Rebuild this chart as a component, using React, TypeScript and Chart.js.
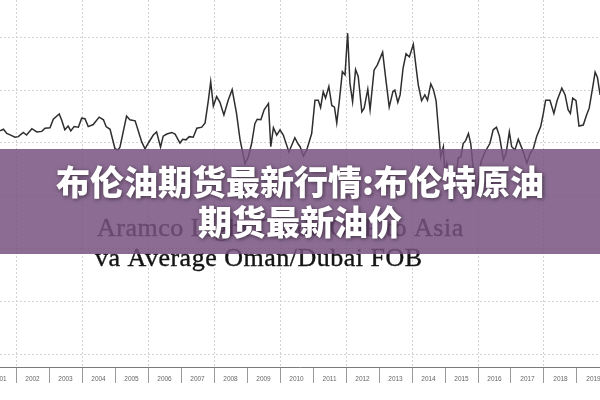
import { useEffect, useRef } from 'react';
import { Chart, registerables } from 'chart.js';

Chart.register(...registerables);

// Decimal year of each reading (x) and the spread value (y)
const dates = [
  2001.52, 2001.62, 2001.72, 2001.87, 2001.97, 2002.07, 2002.22, 2002.32, 2002.48, 2002.63,
  2002.78, 2002.88, 2003.03, 2003.13, 2003.31, 2003.38, 2003.48, 2003.58, 2003.66, 2003.76,
  2003.89, 2003.99, 2004.09, 2004.19, 2004.34, 2004.52, 2004.65, 2004.73, 2004.85, 2005.0,
  2005.09, 2005.15, 2005.35, 2005.45, 2005.61, 2005.81, 2005.91, 2006.01, 2006.16, 2006.26,
  2006.38, 2006.46, 2006.57, 2006.72, 2006.82, 2006.97, 2007.05, 2007.15, 2007.25, 2007.37,
  2007.48, 2007.63, 2007.73, 2007.83, 2007.9, 2007.98, 2008.08, 2008.18, 2008.3, 2008.43,
  2008.55, 2008.68, 2008.79, 2008.94, 2009.04, 2009.14, 2009.24, 2009.31, 2009.42, 2009.52,
  2009.65, 2009.72, 2009.8, 2009.9, 2010.0, 2010.1, 2010.27, 2010.45, 2010.55, 2010.61,
  2010.71, 2010.81, 2010.96, 2011.06, 2011.16, 2011.23, 2011.31, 2011.38, 2011.48, 2011.57,
  2011.65, 2011.72, 2011.8, 2011.89, 2011.97, 2012.05, 2012.12, 2012.2, 2012.29, 2012.37,
  2012.48, 2012.55, 2012.66, 2012.73, 2012.85, 2012.95, 2013.11, 2013.21, 2013.31, 2013.42,
  2013.48, 2013.57, 2013.64, 2013.73, 2013.82, 2013.92, 2014.04, 2014.12, 2014.19, 2014.29,
  2014.39, 2014.47, 2014.57, 2014.65, 2014.73, 2014.8, 2014.87, 2014.95, 2015.0, 2015.05,
  2015.13, 2015.2, 2015.25, 2015.3, 2015.4, 2015.48, 2015.55, 2015.63, 2015.71, 2015.78,
  2015.86, 2015.97, 2016.09, 2016.21, 2016.36, 2016.46, 2016.56, 2016.65, 2016.72, 2016.77,
  2016.85, 2016.95, 2017.02, 2017.12, 2017.22, 2017.35, 2017.48, 2017.58, 2017.68, 2017.78,
  2017.9, 2017.98, 2018.05, 2018.18, 2018.3, 2018.4, 2018.54, 2018.64, 2018.73, 2018.8,
  2018.87, 2018.97, 2019.06, 2019.19, 2019.29, 2019.37, 2019.48, 2019.55, 2019.62, 2019.7,
];

const spread = [
  0.23, 0.26, 0.18, 0.14, 0.11, 0.12, 0.2, 0.15, 0.27, 0.21,
  0.22, 0.28, 0.29, 0.45, 0.55, 0.44, 0.25, 0.32, 0.23, 0.31,
  0.3, 0.47, 0.46, 0.31, 0.35, 0.49, 0.44, 0.31, 0.26, -0.11,
  -0.13, -0.08, 0.51, 0.44, 0.42, 0.02, -0.11, 0.0, 0.15, 0.21,
  -0.08, 0.13, 0.17, 0.2, 0.17, 0.0, 0.07, 0.06, 0.12, 0.11,
  0.28, 0.3, 0.38, 0.81, 1.16, 0.7, 0.88, 0.77, 0.53, 0.81,
  1.01, 0.57, 0.06, -0.39, -0.26, -0.01, 0.37, 0.45, 0.44, 0.63,
  0.75, -0.07, 0.29, 0.15, 0.25, 0.15, -0.17, 0.1, -0.02, -0.07,
  -0.25, -0.13, 0.18, 0.81, 0.81, 0.67, 0.97, 0.85, 1.07, 0.71,
  0.68, 0.38, 0.81, 1.35, 1.29, 2.08, 1.13, 0.78, 1.39, 1.26,
  0.59, 0.66, 1.02, 0.63, 1.38, 1.48, 1.72, 1.19, 0.68, 0.97,
  1.0, 0.77, 0.91, 1.42, 1.69, 1.63, 1.87, 1.45, 1.1, 0.8,
  0.91, 0.81, 1.12, 1.01, 0.8, 0.27, -0.26, -0.07, -0.64, -0.38,
  -0.51, -1.1, -0.76, -0.83, -0.29, -0.26, -0.01, 0.05, 0.18, -0.01,
  -0.51, -0.93, -0.36, -0.17, -0.01, 0.25, 0.3, 0.13, -0.13, -0.32,
  -0.2, 0.21, -0.07, -0.13, 0.07, -0.13, -0.38, -0.2, -0.1, 0.13,
  0.31, 0.56, 0.81, 0.81, 0.56, 0.81, 1.04, 0.91, 0.63, 0.56,
  0.85, 0.8, 0.32, 0.34, 0.53, 0.66, 1.07, 1.34, 1.24, 0.91,
];

const yearLabels = [
  '2001', '2002', '2003', '2004', '2005', '2006', '2007', '2008', '2009', '2010',
  '2011', '2012', '2013', '2014', '2015', '2016', '2017', '2018', '2019',
];

const gridValues = [-4, -3, -2, -1, 0, 1, 2];

const titleLines = ['布伦油期货最新行情:布伦特原油', '期货最新油价'];
const captionLines = ['Aramco Light Crude OSP to Asia', 'va Average Oman/Dubai FOB'];

const X_MIN = 2001.515;
const X_MAX = 2019.697;
const Y_MIN = -4.242;
const Y_MAX = 2.708;

const overlayPlugin = {
  id: 'overlay',
  afterDraw(chart: any) {
    const { ctx } = chart;
    ctx.save();
    // caption of the underlying picture
    ctx.fillStyle = '#141414';
    ctx.strokeStyle = '#141414';
    ctx.lineWidth = 0.4;
    ctx.font = "26px 'Liberation Serif'";
    (ctx as any).letterSpacing = '0.5px';
    ctx.textAlign = 'left';
    ctx.textBaseline = 'alphabetic';
    ctx.fillText(captionLines[0], 97, 236);
    ctx.strokeText(captionLines[0], 97, 236);
    ctx.fillText(captionLines[1], 95, 266);
    ctx.strokeText(captionLines[1], 95, 266);
    (ctx as any).letterSpacing = '0px';
    // translucent banner
    ctx.fillStyle = 'rgba(120, 82, 128, 0.85)';
    ctx.fillRect(0, 149, 600, 105);
    // headline
    ctx.font = "900 34px 'Noto Sans CJK SC'";
    ctx.fillStyle = '#ffffff';
    ctx.textAlign = 'center';
    ctx.shadowColor = 'rgba(0, 0, 0, 0.55)';
    ctx.shadowBlur = 4;
    ctx.shadowOffsetX = 1;
    ctx.shadowOffsetY = 1;
    ctx.fillText(titleLines[0], 300, 195);
    ctx.fillText(titleLines[1], 300, 235);
    ctx.restore();
  },
};

export default function App() {
  const canvasRef = useRef<HTMLCanvasElement | null>(null);

  useEffect(() => {
    if (!canvasRef.current) return;
    const chart = new Chart(canvasRef.current, {
      type: 'line',
      data: {
        datasets: [
          {
            data: dates.map((d, i) => ({ x: d, y: spread[i] })),
            borderColor: '#2e2e2e',
            borderWidth: 1.5,
            pointRadius: 0,
            tension: 0,
            fill: false,
          },
        ],
      },
      options: {
        animation: false,
        responsive: false,
        parsing: false,
        layout: { padding: 0 },
        plugins: {
          legend: { display: false },
          tooltip: { enabled: false },
          title: { display: false },
        },
        scales: {
          x: {
            type: 'linear',
            position: 'bottom',
            min: X_MIN,
            max: X_MAX,
            afterBuildTicks: (axis: any) => {
              const t: { value: number }[] = [];
              yearLabels.forEach((lab) => {
                const y = Number(lab);
                t.push({ value: y });
                t.push({ value: y + 0.5 });
              });
              t.push({ value: Number(yearLabels[yearLabels.length - 1]) + 1 });
              axis.ticks = t;
            },
            afterFit: (s: any) => {
              s.height = 33;
              s.paddingLeft = 0;
              s.paddingRight = 0;
            },
            grid: {
              display: true,
              drawOnChartArea: true,
              drawTicks: true,
              tickLength: 16,
              lineWidth: 1,
              color: (c: any) => {
                const v = c.tick ? c.tick.value : NaN;
                return Number.isInteger(v) && v % 2 === 0 ? '#d2d2d2' : 'rgba(0,0,0,0)';
              },
              tickColor: (c: any) => {
                const v = c.tick ? c.tick.value : NaN;
                return Number.isInteger(v) ? '#9a9a9a' : 'rgba(0,0,0,0)';
              },
              tickWidth: 1,
            },
            border: { display: true, color: '#7a7a7a', width: 1, dash: [2, 2] },
            ticks: {
              autoSkip: false,
              maxRotation: 0,
              minRotation: 0,
              padding: -8,
              color: '#666666',
              font: { family: "'Liberation Sans', Arial, sans-serif", size: 6.5 },
              callback: (v: any) => (Number.isInteger(v) ? '' : String(Math.floor(Number(v)))),
            },
          },
          y: {
            type: 'linear',
            min: Y_MIN,
            max: Y_MAX,
            afterBuildTicks: (axis: any) => {
              axis.ticks = gridValues.map((v) => ({ value: v }));
            },
            afterFit: (s: any) => {
              s.width = 0;
              s.paddingTop = 0;
              s.paddingBottom = 0;
            },
            grid: { color: '#d2d2d2', lineWidth: 1, drawTicks: false },
            border: { display: false, dash: [2, 2] },
            ticks: { display: false },
          },
        },
      },
      plugins: [overlayPlugin],
    });
    return () => chart.destroy();
  }, []);

  return (
    <div style={{ position: 'fixed', left: 0, top: 0, width: 600, height: 400, background: '#ffffff' }}>
      <canvas ref={canvasRef} width={600} height={400} style={{ display: 'block' }} />
    </div>
  );
}
